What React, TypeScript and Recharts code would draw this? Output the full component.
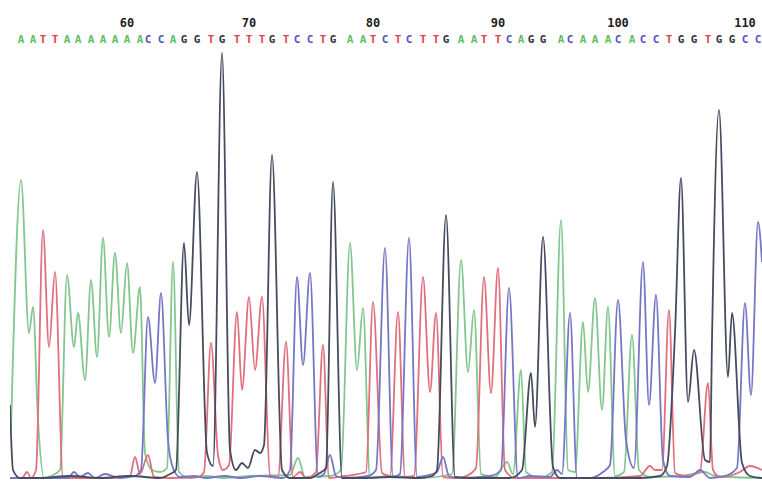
import { LineChart, Line, XAxis, YAxis } from "recharts";

// base calls shown in the header, starting at base 51
const firstBase = 51;
const baseCalls = "AATTAAAAAAACCAGGTGTTTGTCCTGAATCTCTTGAATTCAGGACAAACACCTGGTGGCC".split("");
// scan number of each called peak
const baseScans = [
  21, 33, 43, 55, 67, 78, 91, 103, 115, 127, 140, 148, 161, 173, 184, 197, 211, 222, 237, 249,
  262, 272, 286, 297, 310, 323, 333, 350, 363, 373, 385, 398, 409, 423, 436, 446, 461, 474, 484, 498,
  509, 521, 531, 543, 561, 570, 583, 595, 608, 618, 632, 643, 656, 669, 681, 694, 708, 719, 732, 745,
  758,
];

// trace samples: scan numbers and signal per dye channel
const aScans = [
  11, 21, 29, 33, 38, 44, 51, 60, 67, 74, 78, 85, 91, 97, 103, 109, 115, 121, 127, 133, 140, 145, 152,
  160, 167, 173, 179, 190, 205, 225, 250, 290, 298, 305, 330, 341, 350, 357, 363, 370, 390, 420, 452,
  461, 468, 474, 481, 495, 507, 513, 521, 526, 540, 552, 561, 568, 575, 583, 588, 595, 602, 608, 615,
  624, 632, 639, 650, 680, 705, 715, 762,
];
const aSignal = [
  50, 300, 147, 173, 60, 2, 4, 10, 205, 133, 167, 100, 200, 123, 242, 143, 227, 147, 217, 127, 193, 27, 10,
  8, 12, 218, 8, 2, 4, 2, 4, 5, 22, 3, 4, 10, 237, 110, 172, 2, 4, 2, 6,
  220, 108, 170, 6, 3, 18, 6, 110, 8, 2, 8, 260, 10, 8, 158, 88, 182, 70, 173, 4,
  8, 145, 10, 3, 4, 8, 4, 2,
];

const tScans = [
  10, 22, 27, 31, 36, 43, 49, 55, 63, 80, 110, 130, 135, 140, 148, 154, 170, 198, 204, 211, 218, 223,
  229, 237, 242, 249, 255, 262, 270, 278, 286, 293, 300, 306, 316, 323, 329, 345, 366, 373, 382, 390,
  398, 405, 414, 423, 430, 436, 443, 455, 466, 476, 484, 491, 498, 505, 515, 540, 570, 600, 640, 650,
  655, 662, 669, 675, 685, 700, 708, 713, 720, 740, 750, 762,
];
const tSignal = [
  2, 2, 8, 2, 10, 250, 133, 208, 2, 2, 2, 4, 23, 6, 25, 3, 2, 3, 8, 137, 25, 10,
  15, 168, 90, 183, 110, 183, 5, 3, 138, 3, 8, 2, 8, 135, 2, 4, 8, 178, 7, 4,
  168, 3, 4, 203, 88, 167, 3, 2, 4, 12, 203, 87, 212, 10, 2, 2, 2, 2, 4, 14,
  10, 10, 170, 7, 4, 8, 97, 10, 3, 8, 14, 10,
];

const cScans = [
  10, 68, 74, 80, 88, 95, 105, 120, 135, 141, 148, 155, 161, 168, 173, 180, 195, 205, 225, 240, 260,
  283, 290, 297, 303, 310, 318, 324, 330, 336, 345, 368, 376, 385, 393, 400, 409, 417, 425, 437, 443,
  449, 460, 490, 501, 509, 518, 530, 550, 557, 562, 570, 577, 590, 603, 610, 618, 626, 634, 643, 649,
  656, 663, 670, 690, 700, 710, 725, 737, 745, 751, 758, 762,
];
const cSignal = [
  2, 2, 8, 3, 7, 2, 6, 2, 4, 10, 163, 97, 187, 40, 12, 3, 4, 2, 4, 2, 4,
  2, 10, 203, 115, 207, 3, 6, 25, 4, 2, 4, 10, 232, 3, 6, 242, 3, 4, 8, 23,
  4, 2, 4, 10, 192, 2, 4, 3, 10, 6, 167, 2, 2, 8, 15, 180, 40, 12, 218, 75,
  185, 20, 4, 3, 10, 2, 4, 12, 177, 85, 258, 218,
];

const gScans = [
  10, 13, 20, 40, 70, 100, 130, 160, 170, 176, 184, 189, 197, 207, 213, 222, 230, 236, 242, 248, 255,
  260, 264, 272, 282, 290, 310, 318, 326, 333, 342, 360, 390, 420, 432, 437, 446, 455, 470, 510, 522,
  531, 535, 543, 553, 560, 600, 640, 660, 667, 675, 681, 688, 694, 705, 710, 712, 719, 728, 732, 742,
  750, 762,
];
const gSignal = [
  75, 10, 2, 2, 4, 2, 4, 2, 6, 10, 237, 155, 308, 27, 14, 427, 30, 10, 17, 12, 30,
  27, 35, 325, 10, 2, 2, 6, 12, 298, 2, 2, 3, 2, 4, 10, 265, 3, 2, 2, 10,
  107, 53, 243, 13, 2, 2, 2, 4, 14, 147, 302, 78, 130, 20, 18, 140, 370, 103, 167, 17,
  4, 2,
];

const dyeColors: Record<string, string> = {
  A: "#83c68f",
  T: "#e0707e",
  C: "#7676c6",
  G: "#464b5e",
};
const letterColors: Record<string, string> = {
  A: "#5fbf68",
  T: "#e2404e",
  C: "#5454bc",
  G: "#333840",
};

const toPoints = (scans: number[], signal: number[]) =>
  scans.map((s, i) => ({ scan: s, signal: signal[i] }));

const channels = [
  { name: "A", data: toPoints(aScans, aSignal) },
  { name: "T", data: toPoints(tScans, tSignal) },
  { name: "C", data: toPoints(cScans, cSignal) },
  { name: "G", data: toPoints(gScans, gSignal) },
];

function BaseTick({ x, y, payload }: any) {
  const i = baseScans.indexOf(payload.value);
  if (i < 0) return null;
  const base = baseCalls[i];
  const num = firstBase + i;
  return (
    <g>
      {num % 10 === 0 && (
        <text
          x={x}
          y={y - 19}
          textAnchor="middle"
          fontFamily="'DejaVu Sans Mono', monospace"
          fontWeight="bold"
          fontSize={12}
          fill="#222"
        >
          {num}
        </text>
      )}
      <text
        x={x}
        y={y - 3}
        textAnchor="middle"
        fontFamily="'DejaVu Sans Mono', monospace"
        fontWeight="bold"
        fontSize={11}
        fill={letterColors[base]}
      >
        {base}
      </text>
    </g>
  );
}

export default function App() {
  return (
    <div style={{ position: "absolute", left: 0, top: 0, background: "#fff" }}>
      <LineChart width={762} height={481} margin={{ top: 0, right: 0, bottom: 1, left: 10 }}>
        <XAxis
          dataKey="scan"
          type="number"
          orientation="top"
          domain={[10, 762]}
          allowDataOverflow
          ticks={baseScans}
          interval={0}
          height={46}
          axisLine={false}
          tickLine={false}
          tickSize={0}
          tickMargin={0}
          tick={<BaseTick />}
        />
        <YAxis hide type="number" domain={[0, 434]} allowDataOverflow />
        {channels.map((ch) => (
          <Line
            key={ch.name}
            data={ch.data}
            dataKey="signal"
            type="monotone"
            stroke={dyeColors[ch.name]}
            strokeWidth={1.8}
            dot={false}
            activeDot={false}
            isAnimationActive={false}
          />
        ))}
      </LineChart>
    </div>
  );
}
